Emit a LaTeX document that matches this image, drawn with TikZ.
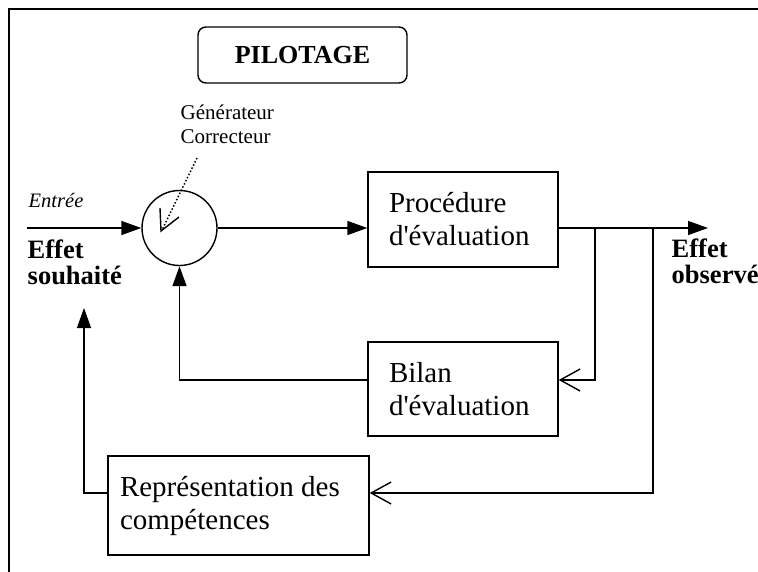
\documentclass[tikz,border=0pt]{standalone}
\usepackage{fontspec}
\setmainfont{Liberation Serif}
\usetikzlibrary{arrows.meta}

\begin{document}
\begin{tikzpicture}[x=1pt, y=-1pt, line width=1.4pt,
  bloc/.style={draw, rectangle, align=flush left, inner ysep=0pt, font=\fontsize{29}{33}\selectfont},
  plein/.style={-{Triangle[length=20pt, width=14pt]}},
  ouvert/.style={-{Straight Barb[length=20pt, width=22pt]}},
  etiquette/.style={anchor=base west, inner sep=0pt, align=flush left}]
\useasboundingbox (0,0) rectangle (758,571);
\draw (9,600) -- (9,9) -- (780,9);

\node[draw, rounded corners=8pt, minimum width=209pt, minimum height=56pt, font=\fontsize{26}{30}\selectfont\bfseries] (pilotage) at (302.5,55) {PILOTAGE};

\node[draw, circle, minimum size=75pt, inner sep=0pt] (gen) at (179.5,228) {};
\draw (160,208) -- (161,231) -- (179,217);
\draw[dotted, line width=1.5pt] (197,158) -- (162,230);

\node[bloc, text width=148pt, inner xsep=21pt, minimum height=95pt] (proc) at (463,219.5) {Procédure\\d\textquotesingle évaluation};
\node[bloc, text width=148pt, inner xsep=21pt, minimum height=94pt] (bilan) at (463,389) {Bilan\\d\textquotesingle évaluation};
\node[bloc, text width=237pt, inner xsep=12pt, minimum height=99pt] (rep) at (238.5,505.5) {Représentation des\\compétences};

\node[etiquette, font=\fontsize{20.5}{24}\selectfont\itshape] (entree) at (28,207) {Entrée};
\node[etiquette, font=\fontsize{26.5}{26}\selectfont\bfseries] (souhait) at (27,284) {Effet\\souhaité};
\node[etiquette, font=\fontsize{26.5}{26}\selectfont\bfseries] (observe) at (671,283) {Effet\\observé};
\node[etiquette, font=\fontsize{21}{24}\selectfont] (correcteur) at (180,143) {Générateur\\Correcteur};

\coordinate (e0) at (27,228);
\coordinate (s0) at (708,228);
\coordinate (b1) at (595,228);
\coordinate (b2) at (653,228);
\coordinate (k1) at (595,380);
\coordinate (k2) at (653,493);
\coordinate (fb) at (84,308);

\draw[plein] (e0) -- (gen.west);
\draw[plein] (gen.east) -- (gen.east -| proc.west);
\draw[plein] (gen.east -| proc.east) -- (s0);
\draw[ouvert] (b1) -- (k1) -- (k1 -| bilan.east);
\draw[plein] (bilan.west |- k1) -| (gen.south);
\draw[ouvert] (b2) -- (k2) -- (k2 -| rep.east);
\draw[plein] (rep.west |- k2) -| (fb);
\end{tikzpicture}
\end{document}
